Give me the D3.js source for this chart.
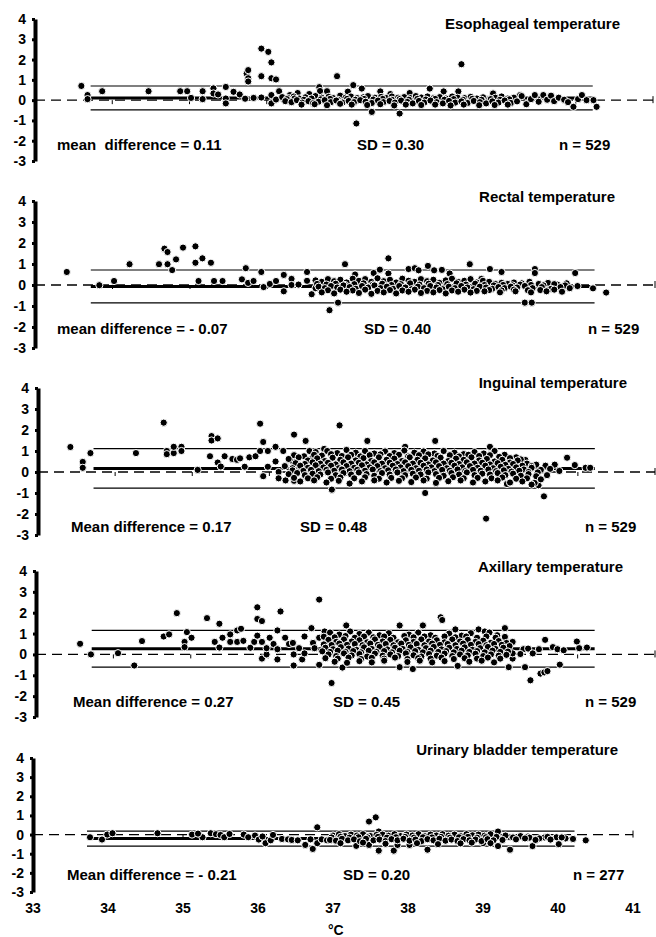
<!DOCTYPE html>
<html>
<head>
<meta charset="utf-8">
<script src="https://d3js.org/d3.v7.min.js"></script>
<style>
  body { margin: 0; background: #fff; }
  text { font-family: "Liberation Sans", Arial, Helvetica, sans-serif; font-weight: bold; fill: #000; }
</style>
</head>
<body>
<svg id="chart"></svg>
<script>
const width = 656;
const height = 937;

// panel texts
const titles = ['Esophageal temperature', 'Rectal temperature', 'Inguinal temperature', 'Axillary temperature', 'Urinary bladder temperature'];
const meanLabels = ['mean  difference = 0.11', 'mean difference = - 0.07', 'Mean difference = 0.17', 'Mean difference = 0.27', 'Mean difference = - 0.21'];
const sdLabels = ['SD = 0.30', 'SD = 0.40', 'SD = 0.48', 'SD = 0.45', 'SD = 0.20'];
const nLabels = ['n = 529', 'n = 529', 'n = 529', 'n = 529', 'n = 277'];
const means = [0.11, -0.07, 0.17, 0.27, -0.21];
const sds = [0.30, 0.40, 0.48, 0.45, 0.20];
const lineRange = [33.72, 40.22];
const yTicks = [4, 3, 2, 1, 0, -1, -2, -3];
const xTicks = [33, 34, 35, 36, 37, 38, 39, 40, 41];
const xUnit = '°C';

// [temperature, difference]
const esophageal = [
  [33.60,0.70],[33.68,0.25],[33.68,0.05],[33.87,0.44],[34.47,0.44],[34.88,0.44],[34.97,0.44],[35.02,0.11],[35.17,0.44],[35.17,0.05],
  [35.31,0.58],[35.31,0.33],[35.37,0.28],[35.47,0.65],[35.47,0.08],[35.47,-0.16],[35.57,0.41],[35.65,0.28],[35.74,1.31],[35.76,1.48],
  [35.76,1.08],[35.76,0.92],[35.72,0.07],[35.83,0.11],[35.93,2.54],[35.93,1.18],[35.93,0.13],[36.02,2.38],[36.06,1.86],[36.06,1.08],
  [36.12,1.02],[36.06,0.25],[36.06,-0.16],[36.16,0.44],[36.12,0.03],[36.22,0.03],
  [36.68,0.64],[36.78,0.44],[36.91,1.18],[36.69,0.45],[37.12,0.74],[37.23,0.57],[37.05,0.42],[37.16,-1.15],[37.36,-0.58],[37.72,-0.66],
  [37.47,0.43],[37.60,0.30],[37.85,0.35],[38.11,0.57],[38.29,0.43],[38.48,0.43],[38.52,1.77],[38.93,0.33],[39.28,0.25],[36.40,0.35],
  [36.55,0.30],[36.30,0.25],
  [36.20,0.15],[36.28,0.10],[36.35,0.18],[36.42,0.08],[36.50,0.14],[36.57,0.05],[36.63,0.20],[36.71,0.12],[36.80,0.16],[36.86,0.10],
  [36.95,0.22],[37.02,0.12],[37.09,0.18],[37.17,0.10],[37.25,0.14],[37.31,0.20],[37.40,0.12],[37.48,0.16],[37.55,0.10],[37.62,0.18],
  [37.70,0.12],[37.78,0.15],[37.86,0.10],[37.93,0.20],[38.00,0.13],[38.08,0.18],[38.16,0.10],[38.24,0.15],[38.32,0.08],[38.40,0.18],
  [38.47,0.12],[38.56,0.10],[38.64,0.16],[38.72,0.08],[38.80,0.14],[38.88,0.05],[38.96,0.12],[39.04,0.18],[39.12,0.08],[39.20,0.12],
  [36.26,0.05],[36.36,0.08],[36.48,0.02],[36.58,0.08],[36.70,0.04],[36.82,0.06],[36.92,0.02],[37.04,0.06],[37.15,0.02],[37.26,0.06],
  [37.38,0.03],[37.50,0.06],[37.62,0.02],[37.72,0.05],[37.84,0.02],[37.95,0.06],[38.06,0.03],[38.18,0.06],[38.30,0.02],[38.42,0.05],
  [38.54,0.02],[38.66,0.06],[38.78,0.02],[38.90,0.05],[39.02,0.02],[39.14,0.04],
  [36.24,-0.05],[36.32,-0.10],[36.39,0.00],[36.46,-0.12],[36.54,-0.05],[36.60,-0.15],[36.67,-0.08],[36.75,0.00],[36.83,-0.10],[36.90,-0.02],
  [36.98,-0.12],[37.06,-0.04],[37.13,-0.10],[37.21,0.00],[37.28,-0.08],[37.36,-0.14],[37.44,-0.02],[37.51,-0.10],[37.59,-0.04],[37.66,-0.12],
  [37.74,-0.02],[37.82,-0.09],[37.89,-0.16],[37.97,-0.04],[38.04,-0.12],[38.12,-0.02],[38.20,-0.10],[38.28,-0.16],[38.36,-0.04],[38.44,-0.12],
  [38.52,-0.06],[38.60,-0.14],[38.68,-0.04],[38.76,-0.10],[38.84,-0.16],[38.92,-0.06],[39.00,-0.12],[39.08,-0.02],[39.16,-0.14],[39.24,-0.06],
  [36.45,-0.22],[36.62,-0.20],[36.78,-0.25],[36.95,-0.18],[37.10,-0.22],[37.30,-0.24],[37.47,-0.20],[37.65,-0.26],[37.80,-0.22],[38.00,-0.24],
  [38.18,-0.22],[38.38,-0.26],[38.55,-0.22],[38.75,-0.25],[38.95,-0.24],[39.12,-0.22],
  [39.30,0.20],[39.36,-0.20],[39.42,0.05],[39.47,0.25],[39.52,-0.08],[39.58,0.25],[39.63,0.02],[39.68,0.22],[39.72,-0.05],[39.78,0.12],
  [39.85,0.02],[39.90,-0.10],[39.97,-0.33],[40.03,0.05],[40.08,0.25],[40.14,0.00],[40.23,0.00],[40.27,-0.33]
];

const rectal = [
  [33.41,0.62],[33.83,-0.01],[34.02,0.19],[34.22,0.99],[34.60,0.99],[34.71,0.99],[34.67,1.73],[34.71,1.57],[34.77,0.71],[34.82,1.22],
  [34.91,1.78],[35.07,1.84],[35.07,1.06],[35.11,0.19],[35.16,1.27],[35.27,1.06],[35.31,0.19],[35.42,0.19],[35.67,0.27],[35.72,0.80],
  [35.75,0.10],[35.82,0.19],[35.92,0.62],[35.95,-0.10],[36.03,0.05],[36.11,0.19],[36.21,0.48],[36.21,-0.30],[36.31,0.29],[36.31,0.00],
  [36.40,0.02],[36.51,0.62],[36.51,0.20],[36.57,-0.44],[36.62,-0.15],[36.80,-1.20],[36.91,-0.84],[37.00,0.99],[37.13,0.50],[37.37,0.57],
  [37.45,0.73],[37.56,1.27],[37.56,0.55],[37.82,0.76],[37.90,0.80],[37.95,0.70],[38.07,0.91],[38.15,0.70],[38.25,0.72],[38.35,0.55],
  [38.61,0.99],[38.87,0.76],[39.02,0.62],[39.45,0.76],[39.45,0.57],[39.97,0.57],[39.32,-0.84],[39.41,-0.84],[40.20,-0.16],[40.37,-0.36],
  [38.76,0.29],
  [36.62,0.22],[36.70,0.15],[36.78,0.28],[36.86,0.18],[36.94,0.25],[37.02,0.12],[37.10,0.30],[37.18,0.20],[37.26,0.28],[37.34,0.15],
  [37.42,0.32],[37.50,0.18],[37.58,0.25],[37.66,0.12],[37.74,0.30],[37.82,0.20],[37.90,0.15],[37.98,0.28],[38.06,0.18],[38.14,0.25],
  [38.22,0.10],[38.30,0.22],[38.38,0.30],[38.46,0.15],[38.54,0.20],[38.62,0.28],[38.70,0.12],[38.78,0.20],[38.86,0.15],[38.94,0.05],
  [39.02,0.10],[39.10,0.05],[39.18,0.12],[39.28,0.08],[39.38,0.15],[39.50,0.05],[39.62,0.10],[39.74,0.02],[39.86,0.08],
  [36.64,0.05],[36.76,0.02],[36.88,0.06],[37.00,0.00],[37.12,0.04],[37.24,0.08],[37.36,0.02],[37.48,0.06],[37.60,0.00],[37.72,0.04],
  [37.84,0.08],[37.96,0.02],[38.08,0.06],[38.20,0.00],[38.32,0.04],[38.44,0.08],[38.56,0.02],[38.68,0.06],[38.80,0.00],[38.92,-0.02],
  [39.04,0.00],[39.16,-0.02],[39.26,0.02],[39.40,0.00],[39.56,-0.02],[39.70,0.04],[39.84,-0.02],
  [36.66,-0.08],[36.74,-0.15],[36.82,-0.05],[36.90,-0.12],[36.98,-0.02],[37.06,-0.10],[37.14,-0.18],[37.22,-0.05],[37.30,-0.12],[37.38,-0.02],
  [37.46,-0.15],[37.54,-0.08],[37.62,-0.18],[37.70,-0.05],[37.78,-0.12],[37.86,-0.20],[37.94,-0.08],[38.02,-0.15],[38.10,-0.05],[38.18,-0.12],
  [38.26,-0.20],[38.34,-0.08],[38.42,-0.15],[38.50,-0.05],[38.58,-0.12],[38.66,-0.20],[38.74,-0.08],[38.82,-0.12],[38.90,-0.18],[38.98,-0.10],
  [39.06,-0.15],[39.14,-0.08],[39.22,-0.12],[39.32,-0.05],[39.42,-0.15],[39.54,-0.10],[39.66,-0.18],[39.78,-0.10],[39.90,-0.15],[40.00,-0.05],
  [36.78,-0.25],[36.94,-0.22],[37.10,-0.26],[37.26,-0.22],[37.42,-0.28],[37.58,-0.24],[37.74,-0.26],[37.90,-0.22],[38.06,-0.28],[38.22,-0.24],
  [38.38,-0.26],[38.54,-0.22],[38.70,-0.28],[38.86,-0.24],[39.02,-0.26],[39.18,-0.22],[39.36,-0.25],[39.52,-0.24],[39.70,-0.22],
  [36.70,-0.35],[36.86,-0.40],[37.02,-0.32],[37.18,-0.38],[37.34,-0.42],[37.50,-0.35],[37.66,-0.40],[37.82,-0.32],[37.98,-0.38],[38.14,-0.35],
  [38.30,-0.40],[38.46,-0.32],[38.62,-0.36],[38.80,-0.30],[39.00,-0.35],[39.20,-0.30],[39.40,-0.35],[39.60,-0.30],[39.80,-0.32]
];

const inguinal = [
  [33.42,1.19],[33.58,0.48],[33.58,0.20],[33.68,0.90],[34.27,0.90],[34.63,2.35],[34.67,1.00],[34.67,0.85],[34.76,0.90],[34.76,1.20],
  [34.86,1.20],[34.86,1.00],[35.07,0.10],[35.25,1.71],[35.25,1.50],[35.33,1.60],[35.23,0.75],[35.33,0.45],[35.37,0.26],[35.42,0.75],
  [35.52,0.62],[35.58,0.58],[35.62,0.65],[35.68,0.25],[35.74,0.70],[35.82,0.75],[35.88,2.30],[35.92,1.43],[35.88,1.00],[35.98,1.00],
  [35.98,0.25],[35.92,-0.20],[36.08,1.20],[36.08,0.50],[36.12,0.00],[36.12,-0.30],[36.18,1.00],[36.21,-0.40],[36.32,1.78],[36.32,-0.42],
  [36.28,0.55],[36.36,0.62],[36.40,0.30],[36.47,1.48],[36.47,0.25],[36.52,1.00],[36.56,0.70],[36.62,0.55],[36.71,1.10],[36.91,2.22],
  [37.27,1.48],[38.15,1.48],[37.76,1.20],[38.02,-1.00],[36.81,-0.84],[38.81,-2.22],[38.86,1.20],[39.56,-1.16],[39.86,0.68],[39.96,0.33],
  [40.10,0.20],[40.16,0.20],[39.49,-0.63],[39.44,-0.52],[39.08,-0.57],[39.32,0.57],
  [36.60,0.95],[36.75,1.00],[36.88,0.90],[37.00,1.05],[37.12,0.92],[37.24,1.00],[37.36,0.88],[37.50,0.98],[37.62,0.90],[37.75,1.02],
  [37.88,0.92],[38.00,0.98],[38.14,0.88],[38.26,1.00],[38.40,0.92],[38.52,0.85],[38.66,0.95],[38.78,0.88],[38.92,1.00],[39.05,0.82],[39.20,0.70],
  [36.32,0.80],[36.45,0.75],[36.58,0.82],[36.68,0.78],[36.80,0.85],[36.94,0.76],[37.06,0.82],[37.18,0.74],[37.30,0.80],[37.44,0.84],
  [37.56,0.76],[37.68,0.82],[37.80,0.74],[37.94,0.80],[38.06,0.84],[38.18,0.76],[38.34,0.80],[38.46,0.74],[38.58,0.82],[38.72,0.76],
  [38.86,0.80],[38.98,0.72],[39.12,0.66],[39.26,0.60],
  [36.25,0.62],[36.38,0.70],[36.50,0.55],[36.62,0.65],[36.72,0.52],[36.82,0.68],[36.92,0.58],[37.02,0.70],[37.12,0.55],[37.22,0.66],
  [37.32,0.52],[37.42,0.70],[37.52,0.58],[37.62,0.64],[37.72,0.52],[37.82,0.70],[37.92,0.58],[38.02,0.65],[38.12,0.55],[38.22,0.68],
  [38.32,0.52],[38.42,0.64],[38.52,0.58],[38.62,0.70],[38.72,0.55],[38.82,0.62],[38.92,0.50],[39.02,0.58],[39.12,0.45],[39.22,0.55],
  [39.34,0.40],[39.46,0.35],[39.58,0.30],[39.70,0.35],
  [36.34,0.42],[36.46,0.38],[36.56,0.46],[36.66,0.40],[36.76,0.44],[36.86,0.36],[36.96,0.46],[37.06,0.40],[37.16,0.44],[37.26,0.36],
  [37.36,0.46],[37.46,0.40],[37.56,0.44],[37.66,0.38],[37.76,0.46],[37.86,0.40],[37.96,0.44],[38.06,0.36],[38.16,0.46],[38.26,0.40],
  [38.36,0.44],[38.46,0.38],[38.56,0.46],[38.66,0.40],[38.76,0.44],[38.86,0.36],[38.96,0.42],[39.06,0.34],[39.16,0.38],[39.28,0.30],[39.40,0.28],
  [36.20,0.28],[36.30,0.18],[36.40,0.30],[36.50,0.20],[36.60,0.32],[36.70,0.22],[36.80,0.30],[36.90,0.18],[37.00,0.28],[37.10,0.20],
  [37.20,0.32],[37.30,0.22],[37.40,0.28],[37.50,0.18],[37.60,0.30],[37.70,0.22],[37.80,0.28],[37.90,0.18],[38.00,0.30],[38.10,0.22],
  [38.20,0.28],[38.30,0.18],[38.40,0.30],[38.50,0.22],[38.60,0.28],[38.70,0.20],[38.80,0.30],[38.90,0.18],[39.00,0.25],[39.10,0.15],
  [39.20,0.22],[39.30,0.12],[39.40,0.20],[39.52,0.10],[39.64,0.15],[39.76,0.05],
  [36.30,0.08],[36.44,0.05],[36.54,0.10],[36.64,0.04],[36.74,0.10],[36.84,0.06],[36.94,0.12],[37.04,0.04],[37.14,0.10],[37.24,0.06],
  [37.34,0.12],[37.44,0.04],[37.54,0.08],[37.64,0.12],[37.74,0.04],[37.84,0.10],[37.94,0.06],[38.04,0.12],[38.14,0.04],[38.24,0.10],
  [38.34,0.06],[38.44,0.12],[38.54,0.04],[38.64,0.10],[38.74,0.06],[38.84,0.12],[38.94,0.04],[39.04,0.08],[39.14,0.02],[39.24,0.06],
  [39.36,0.00],[39.48,-0.02],
  [36.25,-0.10],[36.36,-0.05],[36.46,-0.15],[36.56,-0.08],[36.66,-0.12],[36.76,-0.02],[36.86,-0.15],[36.96,-0.05],[37.06,-0.12],[37.16,-0.02],
  [37.26,-0.10],[37.36,-0.18],[37.46,-0.05],[37.56,-0.12],[37.66,-0.02],[37.76,-0.15],[37.86,-0.08],[37.96,-0.12],[38.06,-0.02],[38.16,-0.10],
  [38.26,-0.18],[38.36,-0.05],[38.46,-0.12],[38.56,-0.02],[38.66,-0.15],[38.76,-0.08],[38.86,-0.12],[38.96,-0.05],[39.06,-0.15],[39.16,-0.08],
  [39.26,-0.18],[39.36,-0.10],[39.46,-0.20],[39.60,-0.15],
  [36.32,-0.28],[36.50,-0.30],[36.62,-0.25],[36.80,-0.32],[36.92,-0.26],[37.10,-0.30],[37.24,-0.25],[37.42,-0.32],[37.58,-0.28],[37.72,-0.30],
  [37.90,-0.26],[38.04,-0.32],[38.20,-0.28],[38.38,-0.25],[38.52,-0.30],[38.70,-0.28],[38.88,-0.30],[39.02,-0.26],[39.20,-0.32],[39.34,-0.30],[39.52,-0.35],
  [36.40,-0.45],[36.58,-0.40],[36.74,-0.50],[36.90,-0.42],[37.04,-0.55],[37.20,-0.45],[37.36,-0.40],[37.52,-0.50],[37.68,-0.42],[37.84,-0.48],
  [38.00,-0.40],[38.16,-0.52],[38.32,-0.44],[38.48,-0.40],[38.64,-0.50],[38.80,-0.45],[38.96,-0.40],[39.12,-0.50],[39.28,-0.45],[39.40,-0.60]
];

const axillary = [
  [33.57,0.51],[33.71,0.00],[34.06,0.06],[34.27,-0.53],[34.37,0.64],[34.65,0.86],[34.72,0.96],[34.82,1.98],[34.92,0.60],[34.92,0.35],
  [34.95,1.07],[35.01,0.80],[35.21,1.74],[35.31,0.60],[35.37,1.47],[35.37,0.33],[35.41,0.80],[35.51,0.96],[35.51,0.60],[35.60,1.15],
  [35.65,1.23],[35.60,0.60],[35.68,0.65],[35.77,0.32],[35.82,0.60],[35.86,2.26],[35.86,1.70],[35.92,1.60],[35.86,0.90],[35.92,0.60],
  [35.92,-0.20],[35.98,0.00],[35.98,0.30],[36.02,0.80],[36.07,0.50],[36.12,1.15],[36.16,2.06],[36.12,0.25],[36.12,-0.24],[36.22,0.80],
  [36.27,0.50],[36.32,0.55],[36.33,0.00],[36.33,-0.53],[36.40,0.30],[36.47,0.86],[36.44,-0.24],[36.47,0.05],[36.56,1.26],[36.58,0.55],
  [36.60,0.30],[36.66,2.63],[36.66,0.80],[36.66,-0.50],[36.73,1.10],[36.82,-1.37],[37.01,1.39],[37.70,1.39],[38.00,1.39],[38.23,1.78],
  [38.25,1.65],[38.42,1.20],[38.72,1.20],[38.80,1.10],[38.86,1.05],[39.06,1.26],[39.16,0.60],[39.16,-0.20],[39.16,0.05],[39.11,-0.61],
  [39.32,-0.61],[39.39,-1.24],[39.52,-0.92],[39.57,-0.86],[39.61,-0.80],[39.77,-0.49],[39.58,0.70],[39.99,0.62],[40.02,0.30],[40.12,0.33],
  [39.30,0.25],[39.36,0.28],[39.42,0.05],[39.50,0.25],[39.68,0.35],[39.74,0.25],[39.82,0.20],[39.26,0.02],[37.70,-0.61],[37.87,-0.70],
  [38.45,-0.55],[36.96,-0.63],
  [36.80,1.05],[36.92,0.95],[37.06,1.10],[37.18,0.98],[37.30,1.05],[37.44,0.92],[37.56,1.02],[37.82,0.95],[37.94,1.05],[38.10,0.92],
  [38.34,1.00],[38.50,0.90],[38.62,1.02],[38.96,0.92],
  [36.72,0.85],[36.86,0.82],[37.00,0.88],[37.12,0.80],[37.24,0.86],[37.36,0.82],[37.50,0.86],[37.62,0.80],[37.76,0.88],[37.88,0.82],
  [38.02,0.86],[38.16,0.80],[38.28,0.86],[38.42,0.82],[38.56,0.86],[38.70,0.80],[38.82,0.86],[38.94,0.80],[39.06,0.84],
  [36.78,0.70],[36.88,0.60],[36.98,0.72],[37.08,0.62],[37.18,0.68],[37.28,0.58],[37.38,0.72],[37.48,0.62],[37.58,0.70],[37.68,0.58],
  [37.78,0.68],[37.88,0.60],[37.98,0.72],[38.08,0.62],[38.18,0.68],[38.28,0.58],[38.38,0.72],[38.48,0.62],[38.58,0.70],[38.68,0.60],
  [38.78,0.66],[38.88,0.56],[38.98,0.64],[39.08,0.55],
  [36.72,0.48],[36.82,0.45],[36.92,0.52],[37.02,0.46],[37.12,0.50],[37.22,0.44],[37.32,0.52],[37.42,0.46],[37.52,0.50],[37.62,0.44],
  [37.72,0.52],[37.82,0.46],[37.92,0.50],[38.02,0.44],[38.12,0.52],[38.22,0.46],[38.32,0.50],[38.42,0.44],[38.52,0.52],[38.62,0.46],
  [38.72,0.50],[38.82,0.44],[38.92,0.50],[39.02,0.46],[39.12,0.40],
  [36.74,0.32],[36.84,0.25],[36.94,0.35],[37.04,0.28],[37.14,0.22],[37.24,0.34],[37.34,0.26],[37.44,0.36],[37.54,0.24],[37.64,0.32],
  [37.74,0.26],[37.84,0.34],[37.94,0.22],[38.04,0.30],[38.14,0.36],[38.24,0.24],[38.34,0.32],[38.44,0.26],[38.54,0.34],[38.64,0.22],
  [38.74,0.30],[38.84,0.36],[38.94,0.26],[39.04,0.32],
  [36.70,0.15],[36.80,0.12],[36.90,0.18],[37.00,0.12],[37.10,0.16],[37.20,0.10],[37.30,0.18],[37.40,0.12],[37.50,0.16],[37.60,0.10],
  [37.70,0.18],[37.80,0.12],[37.90,0.16],[38.00,0.10],[38.10,0.18],[38.20,0.12],[38.30,0.16],[38.40,0.10],[38.50,0.18],[38.60,0.12],
  [38.70,0.16],[38.80,0.10],[38.90,0.18],[39.00,0.12],[39.10,0.14],
  [36.78,0.00],[36.88,-0.08],[36.98,0.05],[37.08,-0.05],[37.18,0.02],[37.28,-0.10],[37.38,0.04],[37.48,-0.06],[37.58,0.00],[37.68,-0.08],
  [37.78,0.05],[37.88,-0.04],[37.98,-0.10],[38.08,0.02],[38.18,-0.06],[38.28,0.04],[38.38,-0.08],[38.48,0.00],[38.58,-0.05],[38.68,0.03],
  [38.78,-0.08],[38.88,0.00],[38.98,-0.06],[39.08,-0.02],
  [36.74,-0.18],[36.90,-0.20],[37.04,-0.15],[37.20,-0.22],[37.34,-0.16],[37.50,-0.20],[37.64,-0.15],[37.80,-0.22],[37.94,-0.18],[38.10,-0.20],
  [38.24,-0.15],[38.40,-0.22],[38.54,-0.18],[38.70,-0.20],[38.84,-0.15],[39.00,-0.20],
  [36.86,-0.35],[37.02,-0.40],[37.18,-0.32],[37.34,-0.38],[37.50,-0.30],[37.80,-0.36],[37.96,-0.30],[38.12,-0.38],[38.28,-0.32],[38.60,-0.35],
  [38.76,-0.30],[38.92,-0.38]
];

const bladder = [
  [33.76,-0.14],[33.92,-0.26],[33.99,0.00],[34.06,0.07],[34.66,0.07],[35.12,0.00],[35.26,-0.14],[35.20,0.05],[35.37,0.07],[35.44,0.02],
  [35.50,-0.02],[35.55,-0.14],[35.62,0.03],[35.81,0.00],[35.87,-0.14],[35.96,-0.05],[36.01,-0.26],[36.06,-0.10],[36.10,-0.45],[36.17,-0.30],
  [36.20,-0.02],[36.32,-0.23],[36.40,-0.25],[36.45,-0.28],[36.53,-0.30],[36.63,-0.54],[36.73,-0.75],[36.79,0.38],[36.79,-0.45],[36.70,-0.25],
  [36.85,-0.25],[36.92,-0.30],[37.48,0.68],[37.57,0.90],[37.61,0.16],[37.61,-0.84],[37.81,-0.84],[37.48,-0.54],[37.31,-0.59],[37.86,-0.54],
  [38.02,-0.54],[38.26,-0.79],[39.00,-0.45],[39.20,0.16],[39.20,-0.60],[39.36,-0.79],[39.36,-0.14],[39.66,-0.60],[39.98,-0.14],[40.01,-0.50],
  [40.20,-0.23],[40.37,-0.30],[40.10,-0.20],[39.82,-0.15],[39.75,-0.20],
  [37.00,-0.05],[37.08,0.02],[37.16,-0.08],[37.24,0.00],[37.32,-0.05],[37.40,0.02],[37.50,-0.08],[37.58,-0.02],[37.66,0.00],[37.74,-0.06],
  [37.82,0.02],[37.90,-0.08],[37.98,0.00],[38.06,-0.05],[38.14,0.02],[38.22,-0.08],[38.30,0.00],[38.38,-0.05],[38.46,0.02],[38.54,-0.06],
  [38.62,0.00],[38.70,-0.08],[38.78,0.02],[38.86,-0.04],[38.94,0.00],[39.02,-0.06],[39.10,0.02],[39.30,-0.05],[39.50,-0.08],[39.60,-0.10],
  [36.98,-0.15],[37.10,-0.12],[37.22,-0.16],[37.34,-0.14],[37.46,-0.15],[37.60,-0.12],[37.72,-0.16],[37.84,-0.14],[37.96,-0.12],[38.08,-0.16],
  [38.20,-0.14],[38.32,-0.15],[38.44,-0.12],[38.56,-0.16],[38.68,-0.14],[38.80,-0.12],[38.92,-0.16],[39.04,-0.14],[39.18,-0.12],[39.40,-0.15],
  [39.62,-0.16],[39.86,-0.12],[40.05,-0.15],
  [36.96,-0.28],[37.04,-0.32],[37.12,-0.22],[37.20,-0.30],[37.28,-0.25],[37.36,-0.35],[37.44,-0.22],[37.54,-0.30],[37.62,-0.26],[37.70,-0.34],
  [37.78,-0.24],[37.86,-0.30],[37.94,-0.22],[38.02,-0.32],[38.10,-0.26],[38.18,-0.34],[38.26,-0.24],[38.34,-0.30],[38.42,-0.22],[38.50,-0.32],
  [38.58,-0.26],[38.66,-0.34],[38.74,-0.24],[38.82,-0.30],[38.90,-0.26],[38.98,-0.34],[39.06,-0.24],[39.14,-0.30],[39.26,-0.28],[39.44,-0.25],
  [39.56,-0.20],[39.70,-0.28],[39.90,-0.26],
  [37.10,-0.45],[37.40,-0.42],[37.70,-0.48],[38.12,-0.45],[38.40,-0.50],[38.70,-0.46],[38.85,-0.42],[39.10,-0.45]
];

const series = [esophageal, rectal, inguinal, axillary, bladder];

// pixel layout of each panel (x of 33 and 41, y of 4 and -3, text spots)
const layout = [
  {x0: 35, x1: 653, yTop: 19,  yBot: 161, titleX: 620, titleY: 29,  meanX: 57, sdX: 357, nX: 559, textY: 150},
  {x0: 35, x1: 655, yTop: 201, yBot: 348, titleX: 615, titleY: 202, meanX: 57, sdX: 364, nX: 588, textY: 334},
  {x0: 38, x1: 655, yTop: 388, yBot: 535, titleX: 627, titleY: 388, meanX: 71, sdX: 300, nX: 585, textY: 532},
  {x0: 36, x1: 655, yTop: 571, yBot: 717, titleX: 623, titleY: 572, meanX: 73, sdX: 333, nX: 585, textY: 707},
  {x0: 33, x1: 633, yTop: 758, yBot: 892, titleX: 618, titleY: 755, meanX: 67, sdX: 343, nX: 573, textY: 880}
];

const svg = d3.select('#chart')
  .attr('width', width)
  .attr('height', height);

series.forEach((pts, i) => {
  const L = layout[i];
  const x = d3.scaleLinear().domain([33, 41]).range([L.x0, L.x1]);
  const y = d3.scaleLinear().domain([-3, 4]).range([L.yBot, L.yTop]);
  const g = svg.append('g');

  // dashed zero line with small ticks
  g.append('line')
    .attr('x1', x(33)).attr('x2', x(41))
    .attr('y1', y(0)).attr('y2', y(0))
    .attr('stroke', '#000').attr('stroke-width', 1.3)
    .attr('stroke-dasharray', '10,6');
  g.selectAll('.ztick')
    .data(xTicks.slice(1))
    .join('line')
    .attr('class', 'ztick')
    .attr('x1', d => x(d)).attr('x2', d => x(d))
    .attr('y1', d => d === 41 ? y(0) - 4 : y(0))
    .attr('y2', d => d === 41 ? y(0) + 3 : y(0) + 4)
    .attr('stroke', '#000').attr('stroke-width', 1);

  // limits of agreement and mean
  const lo = means[i] - 1.96 * sds[i];
  const hi = means[i] + 1.96 * sds[i];
  g.selectAll('.lim')
    .data([hi, lo])
    .join('line')
    .attr('class', 'lim')
    .attr('x1', x(lineRange[0])).attr('x2', x(lineRange[1]))
    .attr('y1', d => y(d)).attr('y2', d => y(d))
    .attr('stroke', '#000').attr('stroke-width', 1.2);
  g.append('line')
    .attr('x1', x(lineRange[0])).attr('x2', x(lineRange[1]))
    .attr('y1', y(means[i])).attr('y2', y(means[i]))
    .attr('stroke', '#000').attr('stroke-width', 3);

  // points
  g.selectAll('circle')
    .data(pts)
    .join('circle')
    .attr('cx', d => x(d[0]))
    .attr('cy', d => y(d[1]))
    .attr('r', 3.6)
    .attr('fill', '#000')
    .attr('stroke', '#fff')
    .attr('stroke-width', 1);

  // y axis
  const ax = g.append('g')
    .attr('transform', `translate(${x(33)},0)`)
    .call(d3.axisLeft(y).tickValues(yTicks).tickSize(3).tickSizeOuter(0).tickPadding(6).tickFormat(d => String(d)));
  ax.attr('font-size', null).attr('font-family', null);
  ax.select('.domain').attr('stroke-width', 4);
  ax.selectAll('.tick line').attr('stroke-width', 3);
  ax.selectAll('.tick text').style('font-size', '14px');

  // texts
  g.append('text').attr('x', L.titleX).attr('y', L.titleY).attr('text-anchor', 'end').style('font-size', '15px').text(titles[i]);
  g.append('text').attr('x', L.meanX).attr('y', L.textY).style('font-size', '15px').style('white-space', 'pre').text(meanLabels[i]);
  g.append('text').attr('x', L.sdX).attr('y', L.textY).style('font-size', '15px').text(sdLabels[i]);
  g.append('text').attr('x', L.nX).attr('y', L.textY).style('font-size', '15px').text(nLabels[i]);

  // x labels under the last panel
  if (i === series.length - 1) {
    g.selectAll('.xl')
      .data(xTicks)
      .join('text')
      .attr('class', 'xl')
      .attr('x', d => x(d))
      .attr('y', 913)
      .attr('text-anchor', 'middle')
      .style('font-size', '14px')
      .text(d => d);
    g.append('text').attr('x', x(37)).attr('y', 935).attr('text-anchor', 'start').attr('dx', -5).style('font-size', '14px').text(xUnit);
  }
});
</script>
</body>
</html>
